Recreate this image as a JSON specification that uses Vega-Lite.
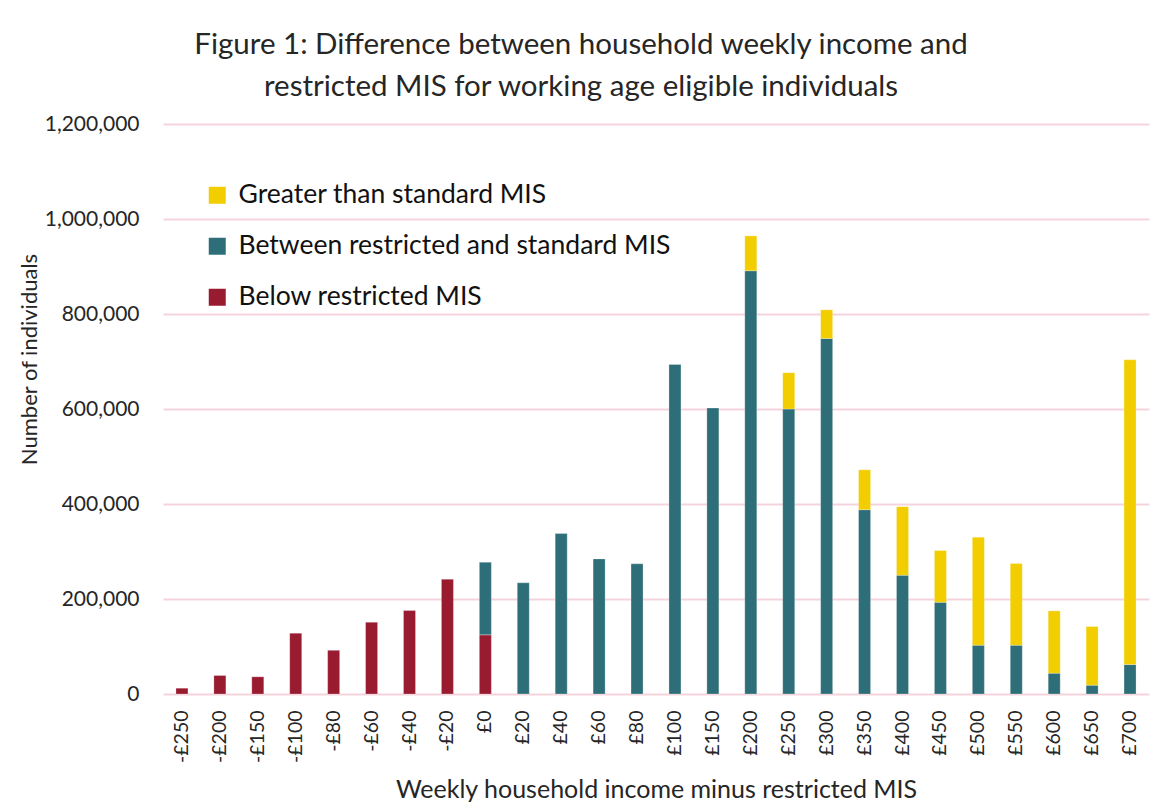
{
  "$schema": "https://vega.github.io/schema/vega-lite/v6.json",
  "autosize": {"type": "none"},
  "width": 986,
  "height": 570,
  "padding": {"left": 163, "top": 124, "right": 3, "bottom": 116},
  "background": "white",
  "title": {
    "text": ["Figure 1: Difference between household weekly income and", "restricted MIS for working age eligible individuals"],
    "anchor": "middle",
    "dx": -75,
    "offset": 11,
    "font": "Lato",
    "fontSize": 29.5,
    "fontWeight": "normal",
    "lineHeight": 42,
    "color": "#262626"
  },
  "data": {
    "values": [
      {"bin": "-£250", "status": "Below restricted MIS", "value": 12200},
      {"bin": "-£200", "status": "Below restricted MIS", "value": 38900},
      {"bin": "-£150", "status": "Below restricted MIS", "value": 36200},
      {"bin": "-£100", "status": "Below restricted MIS", "value": 128000},
      {"bin": "-£80", "status": "Below restricted MIS", "value": 92000},
      {"bin": "-£60", "status": "Below restricted MIS", "value": 151000},
      {"bin": "-£40", "status": "Below restricted MIS", "value": 175700},
      {"bin": "-£20", "status": "Below restricted MIS", "value": 241500},
      {"bin": "£0", "status": "Below restricted MIS", "value": 124500},
      {"bin": "£0", "status": "Between restricted and standard MIS", "value": 152800},
      {"bin": "£20", "status": "Between restricted and standard MIS", "value": 234000},
      {"bin": "£40", "status": "Between restricted and standard MIS", "value": 337700},
      {"bin": "£60", "status": "Between restricted and standard MIS", "value": 284400},
      {"bin": "£80", "status": "Between restricted and standard MIS", "value": 274000},
      {"bin": "£100", "status": "Between restricted and standard MIS", "value": 693800},
      {"bin": "£150", "status": "Between restricted and standard MIS", "value": 602000},
      {"bin": "£200", "status": "Between restricted and standard MIS", "value": 891000},
      {"bin": "£200", "status": "Greater than standard MIS", "value": 73500},
      {"bin": "£250", "status": "Between restricted and standard MIS", "value": 600000},
      {"bin": "£250", "status": "Greater than standard MIS", "value": 76300},
      {"bin": "£300", "status": "Between restricted and standard MIS", "value": 748400},
      {"bin": "£300", "status": "Greater than standard MIS", "value": 60400},
      {"bin": "£350", "status": "Between restricted and standard MIS", "value": 388000},
      {"bin": "£350", "status": "Greater than standard MIS", "value": 84000},
      {"bin": "£400", "status": "Between restricted and standard MIS", "value": 250000},
      {"bin": "£400", "status": "Greater than standard MIS", "value": 144400},
      {"bin": "£450", "status": "Between restricted and standard MIS", "value": 193000},
      {"bin": "£450", "status": "Greater than standard MIS", "value": 109000},
      {"bin": "£500", "status": "Between restricted and standard MIS", "value": 102700},
      {"bin": "£500", "status": "Greater than standard MIS", "value": 227300},
      {"bin": "£550", "status": "Between restricted and standard MIS", "value": 102700},
      {"bin": "£550", "status": "Greater than standard MIS", "value": 171800},
      {"bin": "£600", "status": "Between restricted and standard MIS", "value": 43800},
      {"bin": "£600", "status": "Greater than standard MIS", "value": 131200},
      {"bin": "£650", "status": "Between restricted and standard MIS", "value": 18500},
      {"bin": "£650", "status": "Greater than standard MIS", "value": 123500},
      {"bin": "£700", "status": "Between restricted and standard MIS", "value": 62000},
      {"bin": "£700", "status": "Greater than standard MIS", "value": 641600}
    ]
  },
  "mark": {"type": "bar", "width": 12, "stroke": "white", "strokeOpacity": 0.5, "strokeWidth": 0.5},
  "encoding": {
    "x": {
      "field": "bin",
      "type": "nominal",
      "sort": null,
      "scale": {"paddingOuter": 0, "paddingInner": 0},
      "axis": {
        "title": "Weekly household income minus restricted MIS",
        "titleFont": "Lato",
        "titleFontSize": 25,
        "titleFontWeight": "normal",
        "titleColor": "#262626",
        "titleY": 95,
        "titleBaseline": "middle",
        "labelAngle": -90,
        "labelFont": "Lato",
        "labelFontSize": 19.5,
        "labelColor": "#262626",
        "labelPadding": 16,
        "domain": false,
        "ticks": false,
        "grid": false
      }
    },
    "y": {
      "field": "value",
      "type": "quantitative",
      "stack": "zero",
      "scale": {"domain": [0, 1200000], "nice": false},
      "axis": {
        "title": "Number of individuals",
        "titleFont": "Lato",
        "titleFontSize": 22,
        "titleFontWeight": "normal",
        "titleColor": "#262626",
        "titleX": -134,
        "titleY": 235,
        "titleAngle": -90,
        "titleAlign": "center",
        "titleBaseline": "middle",
        "values": [0, 200000, 400000, 600000, 800000, 1000000, 1200000],
        "format": ",d",
        "labelFont": "Lato",
        "labelFontSize": 21,
        "labelColor": "#262626",
        "labelPadding": 24,
        "domain": false,
        "ticks": false,
        "grid": true,
        "gridColor": "#F5D3DC",
        "gridWidth": 2
      }
    },
    "color": {
      "field": "status",
      "type": "nominal",
      "scale": {
        "domain": ["Greater than standard MIS", "Between restricted and standard MIS", "Below restricted MIS"],
        "range": ["#F2CD00", "#2E6E78", "#991B30"]
      },
      "legend": {
        "title": null,
        "orient": "none",
        "legendX": 41,
        "legendY": 58,
        "symbolType": "square",
        "symbolSize": 289,
        "symbolStrokeWidth": 0,
        "symbolOpacity": 1,
        "labelFont": "Lato",
        "labelFontSize": 26.5,
        "labelColor": "#111111",
        "labelOffset": 8,
        "rowPadding": 24,
        "labelLimit": 700
      }
    },
    "order": {"field": "status", "sort": "ascending"}
  },
  "config": {
    "view": {"stroke": null}
  }
}
